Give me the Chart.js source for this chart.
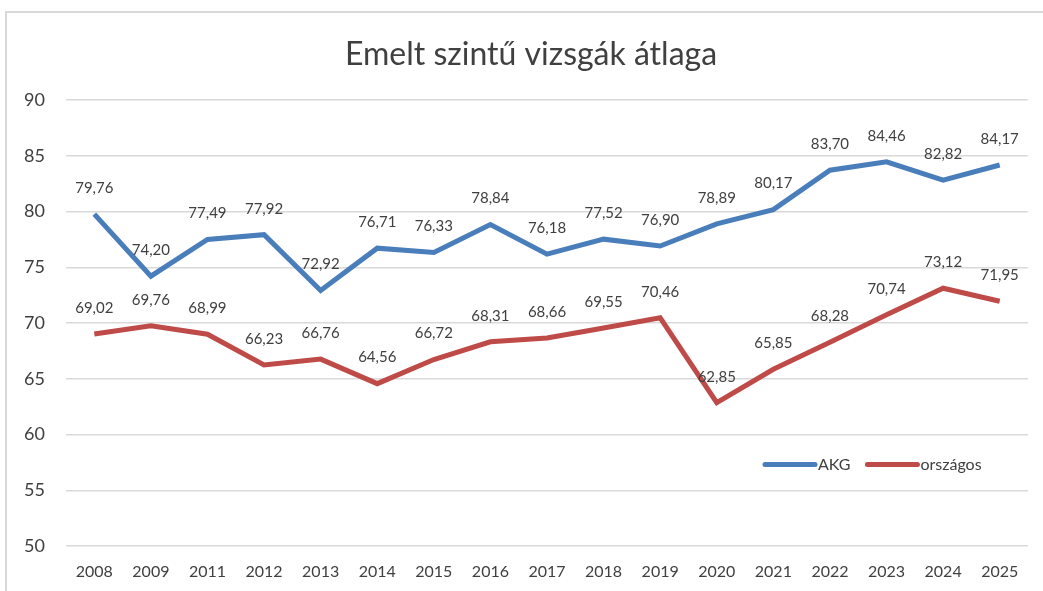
<!DOCTYPE html>
<html>
<head>
<meta charset="utf-8">
<script src="https://cdn.jsdelivr.net/npm/chart.js@4.4.1/dist/chart.umd.min.js"></script>
<style>
  html, body { margin: 0; padding: 0; background: #fff; }
  #wrap { position: relative; width: 1043px; height: 591px; overflow: hidden; }
  #frame { position: absolute; left: 5px; top: 11px; width: 1200px; height: 700px;
           border-left: 2px solid #d9d9d9; border-top: 2px solid #d9d9d9; box-sizing: border-box; }
  canvas { position: absolute; left: 0; top: 0; }
</style>
</head>
<body>
<div id="wrap">
  <div id="frame"></div>
  <canvas id="c" width="1043" height="591"></canvas>
</div>
<script>
const categories = ["2008","2009","2011","2012","2013","2014","2015","2016","2017","2018","2019","2020","2021","2022","2023","2024","2025"];
const akgValues = [79.76, 74.20, 77.49, 77.92, 72.92, 76.71, 76.33, 78.84, 76.18, 77.52, 76.90, 78.89, 80.17, 83.70, 84.46, 82.82, 84.17];
const orszagosValues = [69.02, 69.76, 68.99, 66.23, 66.76, 64.56, 66.72, 68.31, 68.66, 69.55, 70.46, 62.85, 65.85, 68.28, 70.74, 73.12, 71.95];
const seriesNames = ["AKG", "országos"];
const titleText = "Emelt szintű vizsgák átlaga";

const FONT = "Lato, 'Open Sans', sans-serif";
const TEXT = "#404040";
const BLUE = "#4a7ebb";
const RED = "#be4b48";

const titlePlugin = {
  id: 'frameTitle',
  afterDraw(chart) {
    const ctx = chart.ctx;
    ctx.save();
    ctx.font = "32px " + FONT;
    ctx.fillStyle = TEXT;
    ctx.textAlign = "center";
    ctx.textBaseline = "middle";
    ctx.fillText(titleText, 531, 55);
    ctx.restore();
  }
};

const labelsPlugin = {
  id: 'valueLabels',
  afterDatasetsDraw(chart) {
    const ctx = chart.ctx;
    ctx.save();
    ctx.font = "15px " + FONT;
    ctx.fillStyle = TEXT;
    ctx.textAlign = "center";
    ctx.textBaseline = "middle";
    chart.data.datasets.forEach((ds, i) => {
      const meta = chart.getDatasetMeta(i);
      meta.data.forEach((pt, j) => {
        const txt = ds.data[j].toFixed(2).replace('.', ',');
        ctx.fillText(txt, pt.x, pt.y - 26);
      });
    });
    ctx.restore();
  }
};

const legendPlugin = {
  id: 'insideLegend',
  afterDraw(chart) {
    const ctx = chart.ctx;
    const y = chart.scales.y.getPixelForValue(57.3);
    let x = 765;
    ctx.save();
    ctx.font = "16px " + FONT;
    ctx.textBaseline = "middle";
    ctx.textAlign = "left";
    chart.data.datasets.forEach((ds) => {
      ctx.strokeStyle = ds.borderColor;
      ctx.lineWidth = 5;
      ctx.lineCap = "round";
      ctx.beginPath();
      ctx.moveTo(x, y);
      ctx.lineTo(x + 50, y);
      ctx.stroke();
      ctx.fillStyle = TEXT;
      ctx.fillText(ds.label, x + 53, y);
      x += 53 + ctx.measureText(ds.label).width + 17;
    });
    ctx.restore();
  }
};

new Chart(document.getElementById('c'), {
  type: 'line',
  data: {
    labels: categories,
    datasets: [
      { label: seriesNames[0], data: akgValues, borderColor: BLUE, backgroundColor: BLUE,
        borderWidth: 5, pointRadius: 0, tension: 0, borderJoinStyle: 'miter', fill: false },
      { label: seriesNames[1], data: orszagosValues, borderColor: RED, backgroundColor: RED,
        borderWidth: 5, pointRadius: 0, tension: 0, borderJoinStyle: 'miter', fill: false }
    ]
  },
  options: {
    responsive: false,
    animation: false,
    layout: { padding: { left: 0, right: 15, top: 100, bottom: 0 } },
    plugins: {
      legend: { display: false },
      tooltip: { enabled: false },
      title: { display: false }
    },
    scales: {
      x: {
        offset: true,
        grid: { display: false, drawTicks: false },
        border: { display: false },
        ticks: { color: TEXT, font: { family: FONT, size: 16 }, padding: 16, maxRotation: 0, autoSkip: false },
        afterFit(s) { s.height = 45; }
      },
      y: {
        min: 50, max: 90,
        grid: { color: "#d9d9d9", lineWidth: 1.5, drawTicks: false },
        border: { display: false },
        ticks: { stepSize: 5, color: TEXT, font: { family: FONT, size: 18 }, padding: 21 },
        afterFit(s) { s.width = 66; }
      }
    }
  },
  plugins: [labelsPlugin, legendPlugin, titlePlugin]
});
</script>
</body>
</html>
